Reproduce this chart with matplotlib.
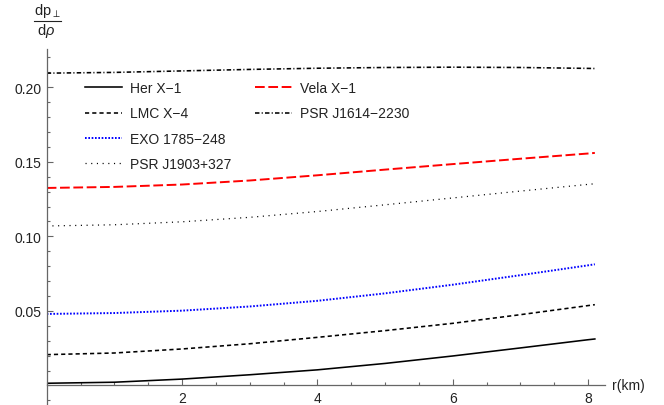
import matplotlib
matplotlib.use("Agg")
import matplotlib.pyplot as plt
from matplotlib.ticker import MultipleLocator, FixedLocator
from matplotlib.lines import Line2D

plt.rcParams['font.family'] = ['Liberation Sans', 'DejaVu Sans']
plt.rcParams['mathtext.fontset'] = 'custom'
plt.rcParams['mathtext.rm'] = 'Liberation Sans'
plt.rcParams['mathtext.it'] = 'Liberation Sans:italic'
plt.rcParams['lines.scale_dashes'] = False

# ---- data ----
r_km = [0, 1, 2, 3, 4, 5, 6, 7, 8, 8.1]
her_x1 = [0.0015, 0.0022, 0.0043, 0.0072, 0.0105, 0.0148, 0.0198, 0.0252, 0.0307, 0.0312]
lmc_x4 = [0.0207, 0.0218, 0.0245, 0.0280, 0.0323, 0.0368, 0.0417, 0.0475, 0.0536, 0.0542]
exo_1785 = [0.0480, 0.0486, 0.0502, 0.0530, 0.0568, 0.0618, 0.0676, 0.0740, 0.0806, 0.0813]
psr_j1903 = [0.1070, 0.1078, 0.1098, 0.1128, 0.1167, 0.1212, 0.1258, 0.1304, 0.1349, 0.1353]
vela_x1 = [0.1325, 0.1332, 0.1348, 0.1375, 0.1410, 0.1448, 0.1485, 0.1521, 0.1556, 0.1560]
psr_j1614 = [0.2095, 0.2100, 0.2110, 0.2120, 0.2128, 0.2133, 0.2135, 0.2133, 0.2127, 0.2126]

labels = ["Her X\u22121", "LMC X\u22124", "EXO 1785\u2212248", "PSR J1903+327",
          "Vela X\u22121", "PSR J1614\u22122230"]
x_ticks = [2, 4, 6, 8]
y_ticks = [0.05, 0.10, 0.15, 0.20]

W, H = 664, 406
fig = plt.figure(figsize=(W / 100, H / 100), dpi=100)

# axes box in pixels
left_px, right_px, top_px, bottom_px = 46.7, 605.0, 50.0, 406.0
ax = fig.add_axes([left_px / W, 1 - bottom_px / H, (right_px - left_px) / W, (bottom_px - top_px) / H])
ax.set_xlim(0, 8.25)
ax.set_ylim(-0.01308, 0.2257)

lw = 1.15
h_her, = ax.plot(r_km, her_x1, color='black', lw=lw, ls='-')
h_lmc, = ax.plot(r_km, lmc_x4, color='black', lw=lw, ls=(0, (3.0, 2.2)))
h_exo, = ax.plot(r_km, exo_1785, color='#0000ff', lw=1.4, ls=(0, (1.2, 1.2)))
h_psr3, = ax.plot(r_km, psr_j1903, color='black', lw=0.9, ls=(0, (0.8, 3.3)))
h_vela, = ax.plot(r_km, vela_x1, color='#ff0000', lw=1.4, ls=(0, (7.0, 2.6)))
h_psr1, = ax.plot(r_km, psr_j1614, color='black', lw=lw, ls=(0, (3.2, 1.6, 0.8, 1.6)))

axis_col = '#666666'
for s in ['top', 'right']:
    ax.spines[s].set_visible(False)
ax.spines['bottom'].set_position(('data', 0))
ax.spines['left'].set_position(('data', 0))
for s in ['bottom', 'left']:
    ax.spines[s].set_color(axis_col)
    ax.spines[s].set_linewidth(0.9)

ax.xaxis.set_major_locator(FixedLocator(x_ticks))
ax.xaxis.set_minor_locator(MultipleLocator(0.5))
ax.yaxis.set_major_locator(FixedLocator(y_ticks))
ax.yaxis.set_minor_locator(MultipleLocator(0.01))
ax.set_yticklabels(["%.2f" % v for v in y_ticks])
ax.tick_params(which='both', direction='in', color=axis_col, width=0.8, labelsize=10, labelcolor='#222222')
ax.tick_params(which='major', length=4, pad=4)
ax.tick_params(which='minor', length=2.3)

# axis labels
fig.text(612 / W, 1 - 386.5 / H, "r(km)", fontsize=10, color='#222222', ha='left', va='center')
fig.text(47 / W, 1 - 15.0 / H, r"dp$_{\perp}$", fontsize=10.5, color='#222222', ha='center', va='baseline')
fig.add_artist(Line2D([33.5 / W, 60.5 / W], [1 - 22.3 / H, 1 - 22.3 / H], color='#222222', lw=0.8))
fig.text(46 / W, 1 - 35.0 / H, r"d$\rho$", fontsize=10.5, color='#222222', ha='center', va='baseline')

# legends
leg_kw = dict(frameon=False, fontsize=10, handlelength=2.66, handletextpad=0.58,
              borderpad=0, borderaxespad=0, labelspacing=0.82, loc='upper left')
leg1 = fig.legend([h_her, h_lmc, h_exo, h_psr3], labels[:4],
                  bbox_to_anchor=(85 / W, 1 - 82 / H), **leg_kw)
leg2 = fig.legend([h_vela, h_psr1], labels[4:],
                  bbox_to_anchor=(255 / W, 1 - 82 / H), **leg_kw)
for leg in (leg1, leg2):
    for t in leg.get_texts():
        t.set_color('#222222')

fig.savefig("out.png", dpi=100)
